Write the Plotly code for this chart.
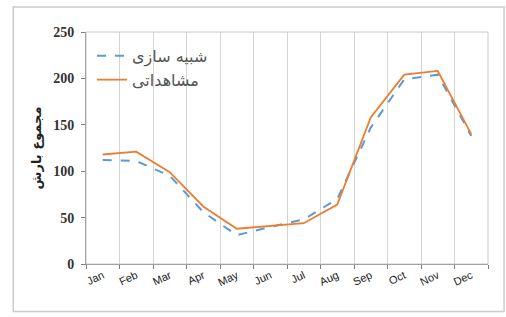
import plotly.graph_objects as go

months = ["Jan", "Feb", "Mar", "Apr", "May", "Jun", "Jul", "Aug", "Sep", "Oct", "Nov", "Dec"]
simulated = [112, 111, 95, 56, 31, 40, 48, 70, 147, 199, 204, 138]
observed = [118, 121, 99, 62, 38, 41, 44, 64, 158, 204, 208, 140]
sim_name = "شبیه سازی"
obs_name = "مشاهداتی"
y_title = "مجموع بارش"
y_ticks = [0, 50, 100, 150, 200, 250]

fig = go.Figure()
fig.add_trace(go.Scatter(x=months, y=simulated, mode="lines", name=sim_name,
                         line=dict(color="#5B9BD5", width=2, dash="dash")))
fig.add_trace(go.Scatter(x=months, y=observed, mode="lines", name=obs_name,
                         line=dict(color="#ED7D31", width=1.8)))

fig.update_layout(
    width=506, height=317,
    margin=dict(l=86, r=18, t=32, b=53),
    paper_bgcolor="white", plot_bgcolor="white",
    showlegend=True,
    legend=dict(x=0.015, y=0.97, xanchor="left", yanchor="top",
                bgcolor="rgba(0,0,0,0)", font=dict(family="DejaVu Sans", size=16, color="#555"),
                itemwidth=30, tracegroupgap=0),
    shapes=[
        dict(type="rect", xref="paper", yref="paper", x0=-0.181, x1=1.04, y0=-0.205, y1=1.108,
             line=dict(color="#cccccc", width=1.5)),
        dict(type="rect", xref="paper", yref="paper", x0=0, x1=1, y0=0, y1=1,
             line=dict(color="#c8c8c8", width=1)),
    ],
)
fig.update_xaxes(
    type="category", tickson="boundaries", range=[-0.5, 11.5],
    showgrid=True, gridcolor="#d4d4d4", gridwidth=1,
    showline=True, linecolor="#7f7f7f", linewidth=1,
    ticks="outside", ticklen=4, tickcolor="#7f7f7f",
    tickangle=-25, tickfont=dict(family="Liberation Sans", size=11, color="#222"),
)
fig.update_yaxes(
    range=[0, 250], tickvals=y_ticks, showgrid=False,
    showline=True, linecolor="#7f7f7f", linewidth=1,
    ticks="outside", ticklen=4, tickcolor="#7f7f7f", zeroline=False,
    ticklabelstandoff=4,
    tickfont=dict(family="Liberation Serif", size=14, color="#333", weight="bold"),
    title=dict(text=y_title, font=dict(family="DejaVu Sans", size=13, color="#222", weight="bold"),
               standoff=8),
)

fig.write_html("out.html", config={"displayModeBar": False},
               post_script="document.body.style.margin='0';")
